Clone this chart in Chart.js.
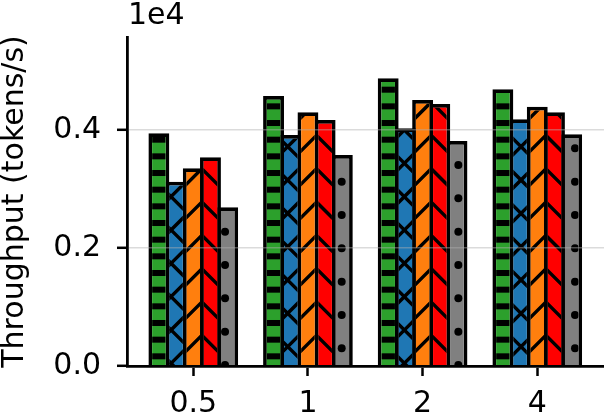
<!DOCTYPE html>
<html>
<head>
<meta charset="utf-8">
<script src="https://cdn.jsdelivr.net/npm/chart.js@4.4.1/dist/chart.umd.min.js"></script>
<style>
  html, body { margin: 0; padding: 0; background: #fff; }
</style>
</head>
<body>
<canvas id="chart" width="604" height="417"></canvas>
<script>
// groups on the x axis
const GROUP_LABELS = ['0.5', '1', '2', '4'];
const GROUP_POS = [0, 1, 2, 3];

// throughput in tokens/s, one array per bar style
const greenVals = [3944, 4576, 4876, 4690];
const blueVals = [3124, 3915, 4029, 4181];
const orangeVals = [3351, 4300, 4508, 4395];
const redVals = [3537, 4169, 4441, 4300];
const grayVals = [2690, 3576, 3814, 3927];

const Y_TICKS = [0, 2000, 4000];
const Y_MAX = 5576;
const X_MIN = -0.578;
const X_MAX = 3.582;

const EDGE = 3.7;       // bar edge width
const HLW = 3.4;        // hatch line width
const P = 33.33;        // hatch repeat
const FONT = { family: 'DejaVu Sans', size: 30 };

const toPoints = vals => vals.map((v, i) => ({ x: GROUP_POS[i], y: v }));

// '/' lines through (ax, ay), repeated every P
function slashLines(ctx, l, t, r, b, ax, ay) {
  const c = ax + ay;
  ctx.beginPath();
  for (let s = c + Math.floor((l + t - c) / P) * P - P; s <= r + b + P; s += P) {
    ctx.moveTo(l - 6, s - (l - 6));
    ctx.lineTo(r + 6, s - (r + 6));
  }
  ctx.stroke();
}
// '\' lines through (ax, ay), repeated every P
function backLines(ctx, l, t, r, b, ax, ay) {
  const c = ax - ay;
  ctx.beginPath();
  for (let s = c + Math.floor((l - b - c) / P) * P - P; s <= r - t + P; s += P) {
    ctx.moveTo(l - 6, (l - 6) - s);
    ctx.lineTo(r + 6, (r + 6) - s);
  }
  ctx.stroke();
}

const HATCH = {
  dash(ctx, l, t, r, b) {
    const per = P / 2, y0 = 273;
    for (let y = y0 + Math.floor((t - y0) / per) * per - per; y <= b + per; y += per) {
      ctx.fillRect(l, y - 3, r - l, 6);
    }
  },
  cross(ctx, l, t, r, b) {
    slashLines(ctx, l, t, r, b, 521, 313.3);
    backLines(ctx, l, t, r, b, 521, 313.3);
  },
  slash(ctx, l, t, r, b) {
    // meets the next bar's '\' lines on the shared edge
    slashLines(ctx, l, t, r, b, r + EDGE / 2, 302);
  },
  back(ctx, l, t, r, b) {
    backLines(ctx, l, t, r, b, l - EDGE / 2, 302);
  },
  dots(ctx, l, t, r, b) {
    const lattices = [[575, 315], [575 + P / 2, 315 + P / 2]];
    lattices.forEach(([ax, ay]) => {
      for (let x = ax + Math.floor((l - ax) / P) * P - P; x <= r + P; x += P) {
        for (let y = ay + Math.floor((t - ay) / P) * P - P; y <= b + P; y += P) {
          ctx.beginPath();
          ctx.arc(x, y, 4, 0, Math.PI * 2);
          ctx.fill();
        }
      }
    });
  }
};

const hatchPlugin = {
  id: 'hatch',
  afterDatasetsDraw(chart) {
    const ctx = chart.ctx;
    chart.data.datasets.forEach((ds, i) => {
      chart.getDatasetMeta(i).data.forEach(bar => {
        const p = bar.getProps(['x', 'y', 'base', 'width'], true);
        const l = p.x - p.width / 2 + EDGE, r = p.x + p.width / 2 - EDGE;
        const t = p.y + EDGE, b = p.base;
        ctx.save();
        ctx.beginPath();
        ctx.rect(l, t, r - l, b - t);
        ctx.clip();
        ctx.strokeStyle = '#000';
        ctx.fillStyle = '#000';
        ctx.lineWidth = HLW;
        HATCH[ds.hatch](ctx, l, t, r, b);
        ctx.restore();
      });
    });
  },
  afterDraw(chart) {
    // offset text of the y axis
    const ctx = chart.ctx;
    ctx.save();
    ctx.font = '30px "DejaVu Sans"';
    ctx.fillStyle = '#000';
    ctx.textBaseline = 'alphabetic';
    ctx.fillText('1e4', chart.chartArea.left + 1, 24);
    ctx.restore();
  }
};

const chunkPct = 0.75;
// widen each bar by one edge so neighbours share a single outline
const barPct = 1 + EDGE / (114.67 * chunkPct / 5);
const barStyle = {
  borderColor: '#000',
  borderWidth: EDGE,
  borderSkipped: 'start',
  inflateAmount: 0,
  categoryPercentage: chunkPct,
  barPercentage: barPct
};

new Chart(document.getElementById('chart'), {
  type: 'bar',
  data: {
    datasets: [
      { label: 'A', data: toPoints(greenVals), backgroundColor: '#2ca02c', hatch: 'dash', ...barStyle },
      { label: 'B', data: toPoints(blueVals), backgroundColor: '#1f77b4', hatch: 'cross', ...barStyle },
      { label: 'C', data: toPoints(orangeVals), backgroundColor: '#ff7f0e', hatch: 'slash', ...barStyle },
      { label: 'D', data: toPoints(redVals), backgroundColor: '#ff0000', hatch: 'back', ...barStyle },
      { label: 'E', data: toPoints(grayVals), backgroundColor: '#808080', hatch: 'dots', ...barStyle }
    ]
  },
  options: {
    responsive: false,
    animation: false,
    devicePixelRatio: 1,
    layout: { padding: { left: 0, right: 0, top: 37, bottom: 0 } },
    plugins: { legend: { display: false }, tooltip: { enabled: false } },
    scales: {
      x: {
        type: 'linear',
        min: X_MIN,
        max: X_MAX,
        offset: false,
        afterBuildTicks: s => { s.ticks = GROUP_POS.map(v => ({ value: v })); },
        afterFit: s => { s.height = 51; },
        ticks: {
          callback: v => GROUP_LABELS[v],
          font: FONT, color: '#000', padding: 10,
          maxRotation: 0, autoSkip: false
        },
        grid: {
          offset: false,
          drawOnChartArea: false, drawTicks: true,
          tickLength: 10, tickWidth: 2.5, tickColor: '#000',
          color: 'rgba(0,0,0,0)'
        },
        border: { display: true, color: '#000', width: 2.8, z: 2 }
      },
      y: {
        min: 0,
        max: Y_MAX,
        afterBuildTicks: s => { s.ticks = Y_TICKS.map(v => ({ value: v })); },
        afterFit: s => { s.width = 127; },
        ticks: {
          callback: v => (v / 1e4).toFixed(1),
          font: FONT, color: '#000', padding: 16
        },
        grid: {
          color: c => (c.tick && c.tick.value === 0) ? 'rgba(0,0,0,0)' : 'rgba(176,176,176,0.45)',
          lineWidth: 1.6, z: 1,
          drawTicks: true, tickLength: 10, tickWidth: 2.5, tickColor: '#000'
        },
        border: { display: true, color: '#000', width: 2.8, z: 2 },
        title: {
          display: true,
          text: 'Throughput (tokens/s)',
          font: { family: 'DejaVu Sans', size: 30, lineHeight: 1 },
          color: '#000',
          padding: { top: 0, bottom: 0 }
        }
      }
    }
  },
  plugins: [hatchPlugin]
});
</script>
</body>
</html>
